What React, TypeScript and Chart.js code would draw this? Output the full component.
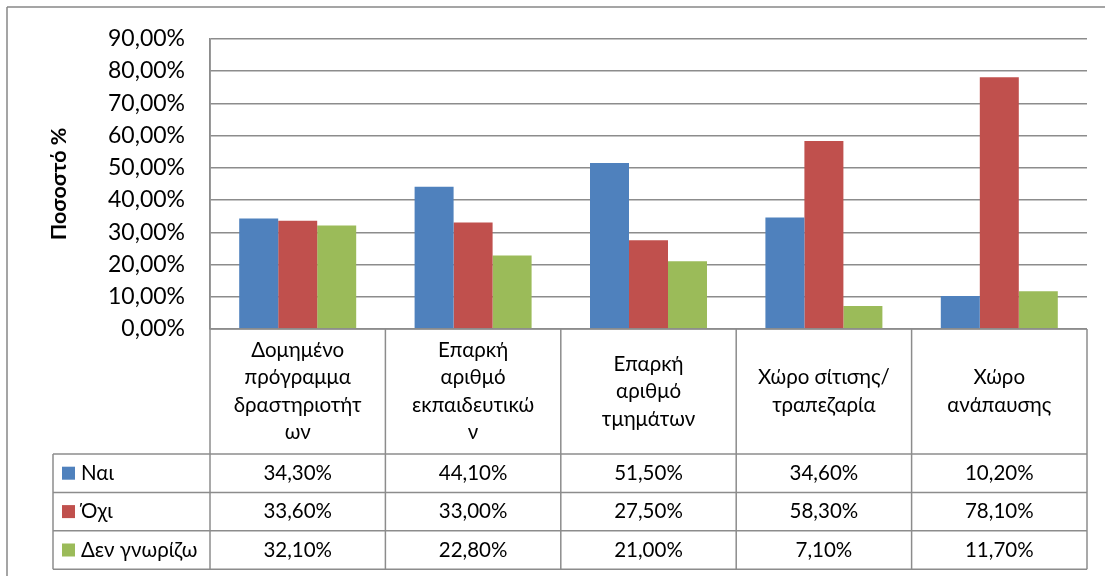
import React, { useEffect, useRef } from "react";
import { Chart, registerables } from "chart.js";

Chart.register(...registerables);

const categoryLines: string[][] = [
  ["Δομημένο", "πρόγραμμα", "δραστηριοτήτ", "ων"],
  ["Επαρκή", "αριθμό", "εκπαιδευτικώ", "ν"],
  ["Επαρκή", "αριθμό", "τμημάτων"],
  ["Χώρο σίτισης/", "τραπεζαρία"],
  ["Χώρο", "ανάπαυσης"],
];
const seriesNames = ["Ναι", "Όχι", "Δεν γνωρίζω"];
const naiValues = [34.3, 44.1, 51.5, 34.6, 10.2];
const oxiValues = [33.6, 33.0, 27.5, 58.3, 78.1];
const denValues = [32.1, 22.8, 21.0, 7.1, 11.7];
const seriesColors = ["#4F81BD", "#C0504D", "#9BBB59"];
const yMax = 90;
const yStep = 10;
const yTitle = "Ποσοστό %";

const FONT = "Lato, 'Noto Sans', sans-serif";
const fmt = (v: number) => v.toFixed(2).replace(".", ",") + "%";

const tablePlugin = {
  id: "dataTable",
  afterDraw(chart: any) {
    const ctx = chart.ctx as CanvasRenderingContext2D;
    const { left, right, bottom, top } = chart.chartArea;
    const n = categoryLines.length;
    const cw = (right - left) / n;
    const headerH = 125;
    const rowH = 38.4;
    const tableLeft = 53;
    const rowTop = bottom + headerH;
    const tableBottom = rowTop + rowH * 3;
    const all = [naiValues, oxiValues, denValues];

    ctx.save();
    ctx.strokeStyle = "#8c8c8c";
    ctx.lineWidth = 1.5;
    const hl = (x1: number, x2: number, y: number) => {
      ctx.beginPath();
      ctx.moveTo(x1, y);
      ctx.lineTo(x2, y);
      ctx.stroke();
    };
    const vl = (x: number, y1: number, y2: number) => {
      ctx.beginPath();
      ctx.moveTo(x, y1);
      ctx.lineTo(x, y2);
      ctx.stroke();
    };
    hl(left, right, bottom);
    for (let r = 0; r <= 3; r++) hl(tableLeft, right, rowTop + r * rowH);
    vl(tableLeft, rowTop, tableBottom);
    vl(left, top, tableBottom);
    for (let c = 1; c <= n; c++) vl(left + c * cw, bottom, tableBottom);

    // outer frame (top + left visible)
    ctx.strokeStyle = "#878787";
    hl(7, 1105, 7);
    vl(7, 7, 576);

    ctx.fillStyle = "#000";
    ctx.textBaseline = "middle";
    ctx.textAlign = "center";
    ctx.font = `20.5px ${FONT}`;
    const lh = 27.5;
    const hc = bottom + headerH / 2;
    categoryLines.forEach((lines, i) => {
      const cx = left + (i + 0.5) * cw;
      const y0 = hc - ((lines.length - 1) * lh) / 2;
      lines.forEach((ln, j) => ctx.fillText(ln, cx, y0 + j * lh));
    });
    all.forEach((vals, r) => {
      const cy = rowTop + (r + 0.5) * rowH;
      vals.forEach((v, i) => {
        ctx.textAlign = "center";
        ctx.fillText(fmt(v), left + (i + 0.5) * cw, cy);
      });
      ctx.fillStyle = seriesColors[r];
      ctx.fillRect(62, cy - 6.5, 13, 13);
      ctx.fillStyle = "#000";
      ctx.textAlign = "left";
      ctx.fillText(seriesNames[r], 81, cy);
    });

    // y axis title
    ctx.save();
    ctx.translate(59, 184);
    ctx.rotate(-Math.PI / 2);
    ctx.textAlign = "center";
    ctx.font = `bold 21.5px ${FONT}`;
    ctx.fillText(yTitle, 0, 0);
    ctx.restore();
    ctx.restore();
  },
};

export default function App() {
  const ref = useRef<HTMLCanvasElement>(null);
  useEffect(() => {
    if (!ref.current) return;
    const chart = new Chart(ref.current, {
      type: "bar",
      data: {
        labels: categoryLines.map((l) => l.join(" ")),
        datasets: [naiValues, oxiValues, denValues].map((d, i) => ({
          label: seriesNames[i],
          data: d,
          backgroundColor: seriesColors[i],
          borderWidth: 0,
          categoryPercentage: 0.667,
          barPercentage: 1,
        })),
      },
      options: {
        responsive: false,
        animation: false,
        layout: { padding: { left: 0, top: 37, right: 18, bottom: 247 } },
        plugins: { legend: { display: false }, tooltip: { enabled: false } },
        scales: {
          x: { display: false },
          y: {
            min: 0,
            max: yMax,
            afterFit: (s: any) => {
              s.width = 210;
            },
            ticks: {
              stepSize: yStep,
              padding: 25,
              color: "#000",
              font: { family: FONT, size: 23 },
              callback: (v: any) => fmt(Number(v)),
            },
            grid: { color: "#8c8c8c", lineWidth: 1.5, drawTicks: false },
            border: { display: true, color: "#8c8c8c", width: 1.5 },
          },
        },
      },
      plugins: [tablePlugin],
    });
    return () => chart.destroy();
  }, []);
  return (
    <div style={{ position: "absolute", left: 0, top: 0, width: 1105, height: 576, background: "#fff" }}>
      <canvas ref={ref} width={1105} height={576} />
    </div>
  );
}
